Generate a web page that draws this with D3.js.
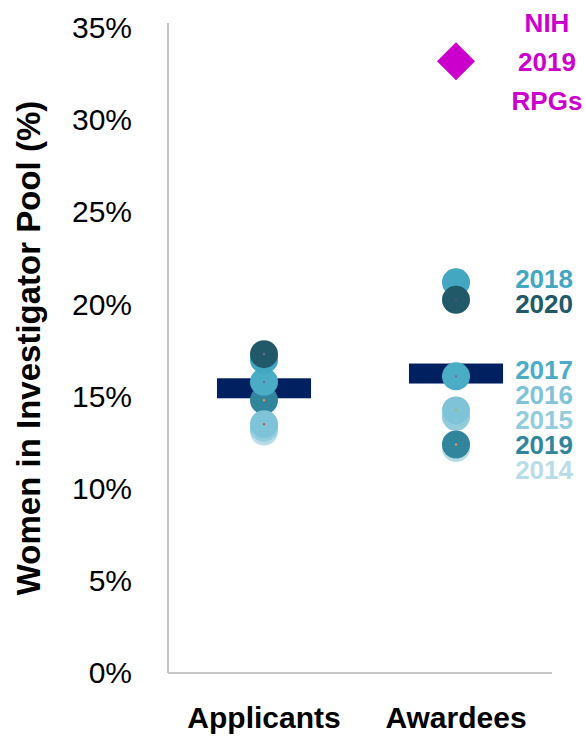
<!DOCTYPE html>
<html>
<head>
<meta charset="utf-8">
<script src="https://cdn.jsdelivr.net/npm/d3@7"></script>
<style>
  body { margin: 0; background: #fff; }
  svg { font-family: "Liberation Sans", Arial, sans-serif; }
</style>
</head>
<body>
<svg width="586" height="740"></svg>
<script>
// values (% women)
const groups = ["Applicants", "Awardees"];
const years = ["2014", "2015", "2016", "2017", "2018", "2019", "2020"];
const applicants = [13.1, 13.3, 13.5, 15.8, 17.0, 14.8, 17.3];
const awardees = [12.2, 13.9, 14.25, 16.1, 21.2, 12.4, 20.25];
const groupMeans = [15.45, 16.25];
const yearColors = ["#b7dee8", "#93cddd", "#7fc3d8", "#4bacc6", "#43a7c2", "#31859c", "#215968"];
const drawOrder = ["2014", "2015", "2019", "2016", "2017", "2018", "2020"];
const nihValue = 33.2;
const nihLabel = ["NIH", "2019", "RPGs"];
const yTicks = [0, 5, 10, 15, 20, 25, 30, 35];

// tiny marker dots sitting in the middle of some circles
const appDots = { "2020": "#8064a2", "2017": "#8064a2", "2019": "#f79646", "2016": "#c0504d" };
const awdDots = { "2020": "#4f4f7f", "2017": "#8064a2", "2016": "#9bbb59", "2019": "#f79646" };

const margin = { top: 23, left: 168, right: 34, bottom: 67 },
    width = 586 - margin.left - margin.right,
    height = 740 - margin.top - margin.bottom;

const svg = d3.select("svg");
const g = svg.append("g")
    .attr("transform", "translate(" + margin.left + "," + margin.top + ")");

let x = d3.scaleBand().domain(groups).range([0, width]);
let y = d3.scaleLinear().domain([0, 35]).range([height, 5]);

// axes lines
g.append("line")
    .attr("x1", 0).attr("x2", 0)
    .attr("y1", 0).attr("y2", height)
    .attr("stroke", "#c6c6c6").attr("stroke-width", 2);
g.append("line")
    .attr("x1", 0).attr("x2", width)
    .attr("y1", height).attr("y2", height)
    .attr("stroke", "#c6c6c6").attr("stroke-width", 2);

// y tick labels
g.append("g")
    .call(d3.axisLeft(y).tickValues(yTicks).tickSize(0).tickPadding(36)
        .tickFormat(d => d + "%"))
    .call(a => a.select(".domain").remove())
    .selectAll("text")
    .attr("font-size", 30)
    .attr("font-family", "Liberation Sans, Arial, sans-serif")
    .attr("fill", "#000");

// category labels
g.append("g")
    .selectAll("text")
    .data(groups)
    .enter()
    .append("text")
    .attr("x", d => x(d) + x.bandwidth() / 2)
    .attr("y", height + 55)
    .attr("text-anchor", "middle")
    .attr("font-size", 30)
    .attr("font-weight", "bold")
    .text(d => d);

// y title
svg.append("text")
    .attr("transform", "rotate(-90)")
    .attr("x", -348)
    .attr("y", 40)
    .attr("text-anchor", "middle")
    .attr("font-size", 33)
    .attr("font-weight", "bold")
    .text("Women in Investigator Pool (%)");

// mean bars
const barW = x.bandwidth() * 0.49, barH = 20;
g.selectAll(".mean")
    .data(groups)
    .enter()
    .append("rect")
    .attr("class", "mean")
    .attr("x", d => x(d) + x.bandwidth() / 2 - barW / 2)
    .attr("y", (d, i) => y(groupMeans[i]) - barH / 2)
    .attr("width", barW)
    .attr("height", barH)
    .attr("fill", "#002060");

// circles, one per year per group
const points = [];
drawOrder.forEach(yr => {
    const i = years.indexOf(yr);
    points.push({ group: "Applicants", year: yr, value: applicants[i], color: yearColors[i], dot: appDots[yr] });
    points.push({ group: "Awardees", year: yr, value: awardees[i], color: yearColors[i], dot: awdDots[yr] });
});

g.selectAll("circle.pt")
    .data(points)
    .enter()
    .append("circle")
    .attr("class", "pt")
    .attr("cx", d => x(d.group) + x.bandwidth() / 2)
    .attr("cy", d => y(d.value))
    .attr("r", 14)
    .attr("fill", d => d.color);

g.selectAll("rect.dot")
    .data(points.filter(d => d.dot))
    .enter()
    .append("rect")
    .attr("class", "dot")
    .attr("x", d => x(d.group) + x.bandwidth() / 2 - 1)
    .attr("y", d => y(d.value) - 1)
    .attr("width", 2)
    .attr("height", 2)
    .attr("fill", d => d.dot);

// year labels next to awardees, spread apart so they don't collide
const spacing = 25;
let clusters = years.map((yr, i) => ({ items: [{ year: yr, color: yearColors[i], target: y(awardees[i]) }] }))
    .sort((a, b) => a.items[0].target - b.items[0].target);

function place(c) {
    const mean = d3.mean(c.items, d => d.target);
    const n = c.items.length;
    c.items.forEach((d, k) => d.pos = mean + (k - (n - 1) / 2) * spacing);
}
clusters.forEach(place);
let merged = true;
while (merged) {
    merged = false;
    for (let k = 0; k < clusters.length - 1; k++) {
        const a = clusters[k], b = clusters[k + 1];
        if (b.items[0].pos - a.items[a.items.length - 1].pos < spacing) {
            a.items = a.items.concat(b.items);
            place(a);
            clusters.splice(k + 1, 1);
            merged = true;
            break;
        }
    }
}
const labels = clusters.flatMap(c => c.items);

g.selectAll("text.yr")
    .data(labels)
    .enter()
    .append("text")
    .attr("class", "yr")
    .attr("x", x("Awardees") + x.bandwidth() / 2 + 117)
    .attr("y", d => d.pos)
    .attr("dy", "0.36em")
    .attr("text-anchor", "end")
    .attr("font-size", 26)
    .attr("font-weight", "bold")
    .attr("fill", d => d.color)
    .text(d => d.year);

// NIH 2019 RPGs diamond
const awX = x("Awardees") + x.bandwidth() / 2;
g.append("path")
    .attr("d", d3.symbol(d3.symbolSquare, 723)())
    .attr("transform", "translate(" + awX + "," + y(nihValue) + ") rotate(45)")
    .attr("fill", "#cc00cc");

g.selectAll("text.nih")
    .data(nihLabel)
    .enter()
    .append("text")
    .attr("class", "nih")
    .attr("x", awX + 91)
    .attr("y", (d, i) => y(nihValue) + (i - 1) * 39)
    .attr("dy", "0.36em")
    .attr("text-anchor", "middle")
    .attr("font-size", 26)
    .attr("font-weight", "bold")
    .attr("fill", "#cc00cc")
    .text(d => d);
</script>
</body>
</html>
